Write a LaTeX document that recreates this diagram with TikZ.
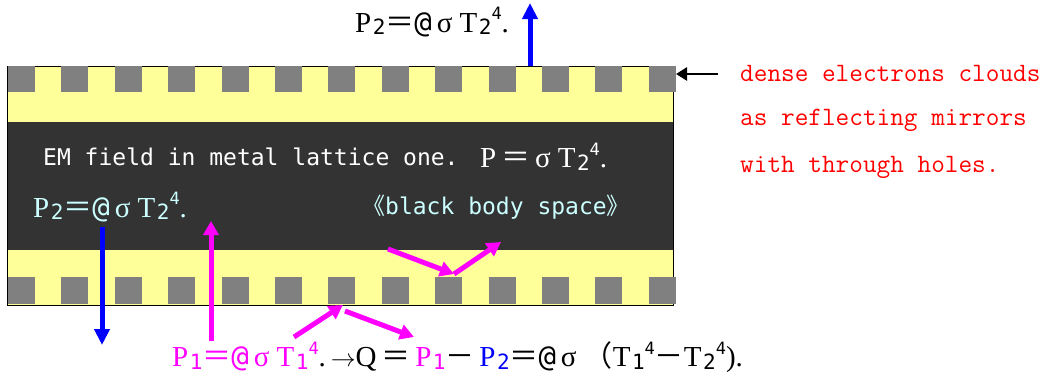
\documentclass[tikz,border=0pt]{standalone}
\usepackage{fontspec}
\setmainfont{Liberation Serif}
\newfontfamily\gothicfont{DejaVu Sans Mono}
\newfontfamily\cjk{Noto Sans CJK JP}
\usetikzlibrary{arrows.meta}
\definecolor{bandyellow}{RGB}{255,255,153}
\definecolor{latticegray}{RGB}{128,128,128}
\definecolor{darkspace}{RGB}{51,51,51}
\definecolor{paleblue}{RGB}{204,255,255}
\definecolor{pink}{RGB}{255,0,255}
\definecolor{pureblue}{RGB}{0,0,255}
\definecolor{purered}{RGB}{255,0,0}
\newcommand{\feq}{{\cjk ＝}}
\newcommand{\fminus}{{\cjk －}}
\newcommand{\lo}[1]{\kern1.5pt\raisebox{-0.1em}{\gothicfont\fontsize{21}{21}\selectfont #1}}
\newcommand{\hi}[1]{\raisebox{0.42em}{\gothicfont\fontsize{17}{17}\selectfont #1}}
\newcommand{\at}{{\gothicfont @}}

\begin{document}
\begin{tikzpicture}[x=1pt,y=-1pt,
  serifeq/.style={font=\fontsize{29}{31}\selectfont, inner sep=0pt},
  gothic/.style={font=\gothicfont\fontsize{23}{26}\selectfont, inner sep=0pt},
  redtext/.style={font=\ttfamily\fontsize{26.5}{28}\selectfont, text=purered, inner sep=0pt, anchor=west},
  bluearrow/.style={draw=pureblue, line width=5pt, -{Triangle[width=15pt,length=16pt]}},
  pinkarrow/.style={draw=pink, line width=5pt, -{Triangle[width=15pt,length=14pt]}},
  hole/.style={fill=latticegray}]
\useasboundingbox (0,0) rectangle (1052,378);
% metal plate
\fill[bandyellow] (7,66) rectangle (673,122);
\fill[darkspace] (7,122) rectangle (673,250);
\fill[bandyellow] (7,250) rectangle (673,305);
\draw[line width=1pt] (7,66) rectangle (673,305);
\foreach \i in {0,...,12} {
  \fill[hole] ({8+53.4*\i},66) rectangle ++(27,26);
  \fill[hole] ({8+53.4*\i},277) rectangle ++(27,27);
}
% texts
\node[serifeq, anchor=west] (ptwotop) at (355,22) {P\lo2\feq\at\,σ\ T\lo2\hi4.};
\node[gothic, text=white, anchor=west] (emfield) at (43,157) {EM field in metal lattice one.};
\node[serifeq, text=white, anchor=west] (pfield) at (480,157) {P\,\feq\,σ\ T\lo2\hi4.};
\node[serifeq, text=paleblue, anchor=west] (ptwoin) at (33,207) {P\lo2\feq\at\,σ\ T\lo2\hi4.};
\node[gothic, text=paleblue, anchor=west] (bbspace) at (362,207) {{\cjk 《}black body space{\cjk 》}};
\node[redtext] (dense) at (740,73) {dense electrons clouds};
\node[redtext] (mirrors) at (740,120) {as reflecting mirrors};
\node[redtext] (holes) at (740,167) {with through holes.};
\node[serifeq, anchor=west] (balance) at (172,357) {\textcolor{pink}{P\lo1\feq\at\,σ\ T\lo1\hi4}.\,$\rightarrow$Q\,\feq\,\textcolor{pink}{P\lo1}\fminus\,\textcolor{pureblue}{P\lo2}\feq\at\,σ\ {\cjk （}T\lo1\hi4\fminus T\lo2\hi4).};
% rays
\coordinate (upfoot) at (530,66);
\coordinate (uptip) at (530,3);
\coordinate (downfoot) at (102,227);
\coordinate (downtip) at (102,345);
\coordinate (risefoot) at (211,341);
\coordinate (risetip) at (211,221);
\coordinate (inA) at (388,249);
\coordinate (hitA) at (454,274);
\coordinate (outA) at (501,242);
\coordinate (inB) at (294,337);
\coordinate (hitB) at (343,305);
\coordinate (startB) at (345,311);
\coordinate (outB) at (414,337);
\coordinate (pointer) at (718,74);
\coordinate (cloud) at (676,74);
\draw[bluearrow] (upfoot) -- (uptip);
\draw[bluearrow] (downfoot) -- (downtip);
\draw[pinkarrow] (risefoot) -- (risetip);
\draw[pinkarrow] (inA) -- (hitA);
\draw[pinkarrow] (hitA) -- (outA);
\draw[pinkarrow] (inB) -- (hitB);
\draw[pinkarrow] (startB) -- (outB);
\draw[line width=2.5pt, -{Triangle[width=13pt,length=11pt]}] (pointer) -- (cloud);
\end{tikzpicture}
\end{document}
